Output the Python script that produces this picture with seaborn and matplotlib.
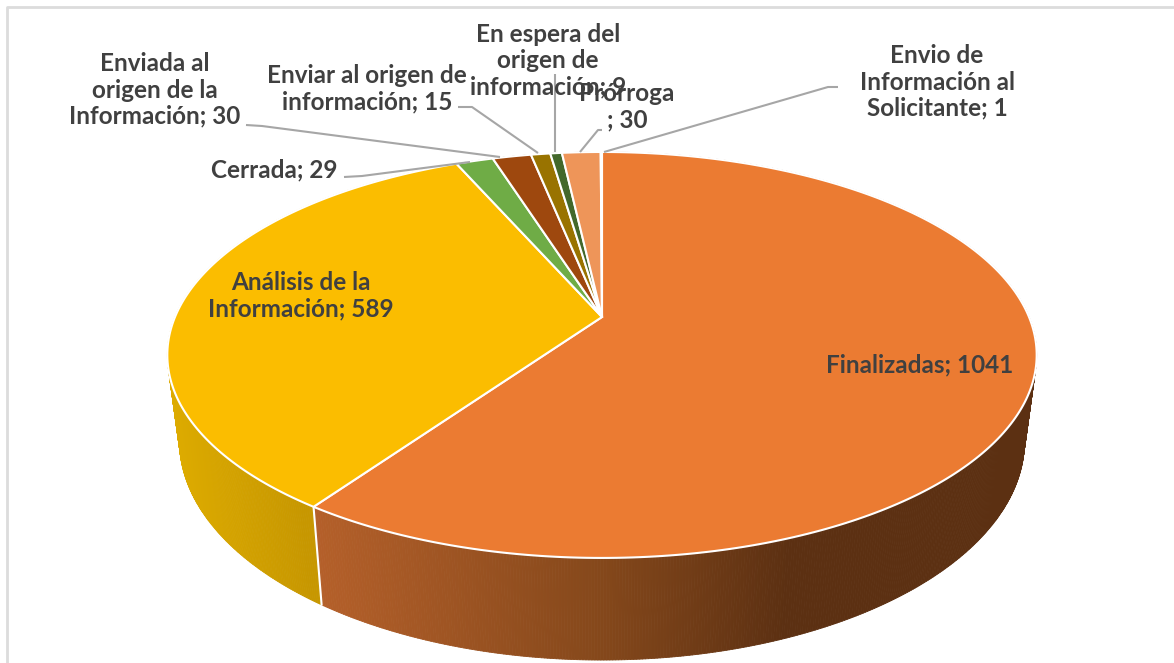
import numpy as np
import matplotlib
matplotlib.use("Agg")
import matplotlib.pyplot as plt
from matplotlib.path import Path
from matplotlib.transforms import Transform, Affine2D
from matplotlib.collections import PolyCollection
from matplotlib.colors import to_rgb
import seaborn as sns

# ---- data ----
categories = ["Finalizadas", "Análisis de la Información", "Cerrada",
              "Enviada al origen de la Información", "Enviar al origen de información",
              "En espera del origen de información", "Prórroga",
              "Envio de Información al Solicitante"]
values = [1041, 589, 29, 30, 15, 9, 30, 1]
colors = ["#EB7B32", "#FBBD00", "#6FAC46", "#9E480E", "#997300", "#43682B", "#EE9559", "#EE9559"]
label_texts = ["Finalizadas; 1041", "Análisis de la\nInformación; 589", "Cerrada; 29",
               "Enviada al\norigen de la\nInformación; 30", "Enviar al origen de\ninformación; 15",
               "En espera del\norigen de\ninformación; 9", "Prórroga\n; 30",
               "Envio de\nInformación al\nSolicitante; 1"]

# ---- style / geometry ----
CX, CY, A, B, K = 602.0, 317.0, 427.0, 136.6, 0.187
DEPTH, SHRINK = 83.0, 0.972
label_xy = [(920, 365), (301, 296), (274, 170), (155, 90), (367, 89), (548, 61), (627, 107), (937, 82)]
leaders = [None, None,
           [(344, 177), (362, 176), (470, 162)],
           [(246, 125), (262, 126), (500, 157)],
           [(458, 107), (472, 107), (538, 153)],
           [(555, 74), (555, 152)],
           [(602, 130), (598, 130), (580, 152)],
           [(838, 87), (828, 87), (604, 152)]]
GREY = "#A6A6A6"
TXT = "#404040"


def project(xy, depth=0.0, shrink=1.0):
    xy = np.asarray(xy, float)
    x, y = xy[..., 0], xy[..., 1]
    w = 1 + K * y
    return np.stack([CX + shrink * A * x / w, (CY - B * y + depth) / w], axis=-1)


class TiltTransform(Transform):
    input_dims = output_dims = 2
    has_inverse = False
    is_separable = False

    def transform_non_affine(self, values):
        return project(values)

    def transform_path_non_affine(self, path):
        scale = 2000.0
        poly = path.transformed(Affine2D().scale(scale)).to_polygons(closed_only=True)[0] / scale
        return Path(project(poly), closed=True)


sns.set_theme(style="white")
plt.rcParams["font.family"] = ["Lato", "DejaVu Sans"]
fig = plt.figure(figsize=(11.74, 6.63), dpi=100, facecolor="white")
ax = fig.add_axes([0, 0, 1, 1])

palette = sns.color_palette(colors)
wedges, _ = ax.pie(values, startangle=90, counterclock=False, colors=palette,
                   wedgeprops=dict(edgecolor="white", linewidth=1.5, zorder=3))
ax.set_aspect("auto")
ax.set_xlim(0, 1174)
ax.set_ylim(663, 0)
ax.set_axis_off()

tilt = TiltTransform()
for w in wedges:
    w.set_transform(tilt + ax.transData)
    w.set_clip_on(False)

# side wall, from the same wedge angles
orange_x, orange_c = [321, 600, 785, 1040], ["#B5602A", "#85481B", "#5C3012", "#5C3012"]
yellow_x, yellow_c = [170, 313], ["#DFAD00", "#C79700"]


def grad(x, stops_x, stops_c):
    rgb = np.array([to_rgb(c) for c in stops_c])
    return np.stack([np.interp(x, stops_x, rgb[:, i]) for i in range(3)], axis=-1)


polys, cols = [], []
for i, w in enumerate(wedges):
    th = np.radians(np.linspace(w.theta1, w.theta2, max(int(abs(w.theta2 - w.theta1) * 3), 2)))
    circ = np.stack([np.cos(th), np.sin(th)], axis=-1)
    top, bot = project(circ), project(circ, DEPTH, SHRINK)
    for j in range(len(th) - 1):
        polys.append([top[j], top[j + 1], bot[j + 1], bot[j]])
        xm = bot[j:j + 2, 0].mean()
        if i == 0:
            cols.append(grad(xm, orange_x, orange_c))
        elif i == 1:
            cols.append(grad(xm, yellow_x, yellow_c))
        else:
            cols.append(np.array(to_rgb(colors[i])) * 0.6)
ax.add_collection(PolyCollection(polys, facecolors=cols, edgecolors=cols, linewidths=0.6, zorder=1))

# white seam between the two visible walls
t = np.radians(wedges[0].theta1)
seam = np.array([np.cos(t), np.sin(t)])
s0, s1 = project(seam), project(seam, DEPTH, SHRINK)
ax.plot([s0[0], s1[0]], [s0[1], s1[1]], color="white", lw=1.5, zorder=2)

# leader lines
for pts in leaders:
    if pts:
        p = np.array(pts)
        ax.plot(p[:, 0], p[:, 1], color=GREY, lw=1.5, zorder=4, solid_capstyle="butt")

# labels
for txt, (x, y) in zip(label_texts, label_xy):
    ax.text(x, y, txt, ha="center", va="center", fontsize=17.5, fontweight="bold",
            color=TXT, linespacing=1.17, zorder=5)

# chart frame: only the top and left edges show
ax.plot([6.5, 6.5, 1174], [663, 7, 7], color="#DCDCDC", lw=2, zorder=0)

fig.savefig("out.png", dpi=100, facecolor="white")
